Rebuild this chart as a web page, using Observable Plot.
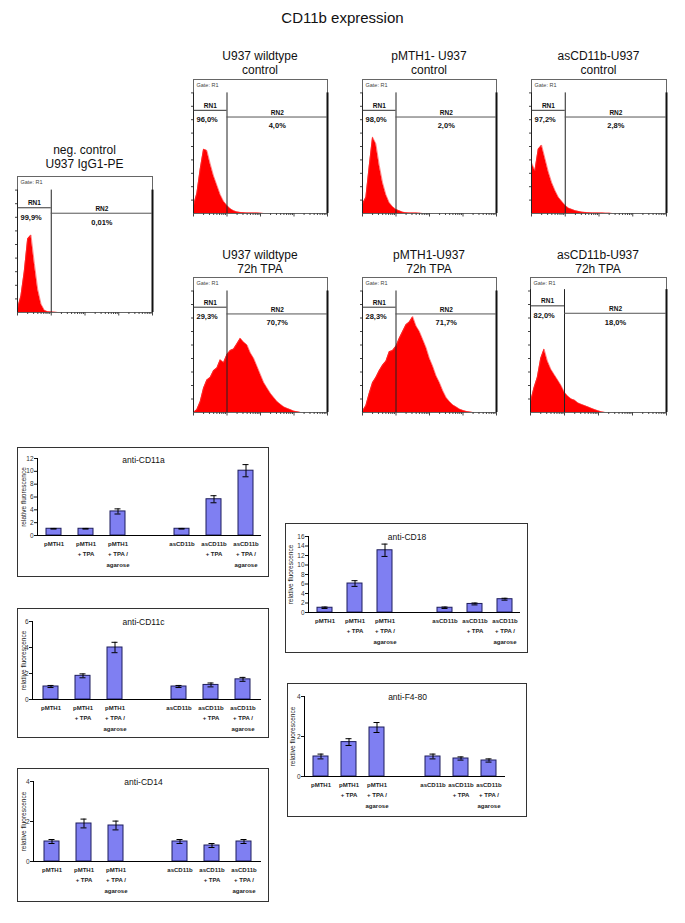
<!DOCTYPE html>
<html><head><meta charset="utf-8">
<script src="https://cdn.jsdelivr.net/npm/d3@7"></script>
<script src="https://cdn.jsdelivr.net/npm/@observablehq/plot@0.6"></script>
<style>
body{margin:0;background:#fff;font-family:"Liberation Sans",Arial,Helvetica,sans-serif;}
#root{position:relative;width:685px;height:923px;overflow:hidden;background:#fff;}
svg{display:block;overflow:visible;}
</style></head><body><div id="root"></div>
<script>
// ---------------- DATA ----------------
const mainTitle = "CD11b expression";

// flow cytometry histograms: heights (% of panel) per 0.1-decade bin, starting at 10^0
const histTitles = ["neg. control\nU937 IgG1-PE", "U937 wildtype\ncontrol", "pMTH1- U937\ncontrol", "asCD11b-U937\ncontrol",
                    "U937 wildtype\n72h TPA", "pMTH1-U937\n72h TPA", "asCD11b-U937\n72h TPA"];
const binStep = 0.1;
const negCtrl   = [3, 12, 30, 54, 57, 36, 17, 6, 1.5, 0.5, 0.3, 0.2, 0];
const wtCtrl    = [6, 15, 33, 48, 47, 37, 28, 21, 14, 9, 6, 3.5, 2, 1.2, 0.8, 0.5, 0.4, 0.4, 0.3, 0.3, 0.2, 0];
const pmthCtrl  = [7, 12, 35, 57, 52, 36, 23, 14, 8, 5, 3, 2, 1, 0.6, 0.4, 0.3, 0.3, 0.2, 0];
const asCtrl    = [38, 32, 48, 51, 41, 31, 23, 17, 12, 9, 6, 4, 3, 2, 1.5, 1, 0.8, 0.5, 0.4, 0.4, 0.3, 0.3, 0.2, 0.2, 0];
const wtTPA     = [0, 2, 8, 18, 24, 26, 31, 33, 39, 37, 43, 46, 47, 51, 55, 52, 50, 44, 40, 34, 28, 22, 18, 14, 11, 8, 6, 4, 3, 2, 1, 0.5, 0];
const pmthTPA   = [1, 5, 14, 22, 26, 31, 35, 38, 45, 46, 49, 55, 60, 65, 67, 71, 64, 60, 54, 48, 40, 34, 27, 22, 16, 11, 8, 5.5, 4, 2.5, 1.5, 0.8, 0.3, 0];
const asTPA     = [8, 18, 26, 40, 47, 38, 32, 28, 24, 20, 15, 12, 10, 9, 7, 6, 5, 4, 3, 2, 1.2, 0.4, 0];
const histSeries = [negCtrl, wtCtrl, pmthCtrl, asCtrl, wtTPA, pmthTPA, asTPA];

const rn1Pct = ["99,9%", "96,0%", "98,0%", "97,2%", "29,3%", "28,3%", "82,0%"];
const rn2Pct = ["0,01%", "4,0%", "2,0%", "2,8%", "70,7%", "71,7%", "18,0%"];
const gateSplit = 1;               // RN1 / RN2 boundary (decade)
const decades = 4;
const rn1Level = [77, 77, 77, 77, 78, 78, 79];
const rn2Level = [73, 72, 72, 72, 73, 73, 73.5];
const markerTop = [90, 90, 90, 90, 90, 90, 91];

// bar charts
const barCats = ["pMTH1", "pMTH1\n+ TPA", "pMTH1\n+ TPA /\nagarose", "asCD11b", "asCD11b\n+ TPA", "asCD11b\n+ TPA /\nagarose"];
const gapSlot = " ";
const barTitles = ["anti-CD11a", "anti-CD11c", "anti-CD14", "anti-CD18", "anti-F4-80"];
const cd11aMean = [1.05, 1.05, 3.75, 1.05, 5.65, 10.1];
const cd11aErr  = [0.05, 0.05, 0.4, 0.05, 0.55, 0.95];
const cd11cMean = [1.0, 1.82, 4.0, 1.0, 1.12, 1.55];
const cd11cErr  = [0.08, 0.15, 0.4, 0.08, 0.15, 0.15];
const cd14Mean  = [1.0, 1.9, 1.8, 1.0, 0.8, 1.0];
const cd14Err   = [0.1, 0.22, 0.22, 0.1, 0.1, 0.1];
const cd18Mean  = [1.0, 6.1, 13.1, 1.0, 1.8, 2.8];
const cd18Err   = [0.15, 0.6, 1.3, 0.15, 0.2, 0.2];
const f480Mean  = [1.0, 1.72, 2.45, 1.0, 0.9, 0.8];
const f480Err   = [0.12, 0.17, 0.25, 0.12, 0.08, 0.08];
const cd11aTicks = [0, 2, 4, 6, 8, 10, 12];
const cd11cTicks = [0, 2, 4, 6];
const cd14Ticks  = [0, 2, 4];
const cd18Ticks  = [0, 2, 4, 6, 8, 10, 12, 14, 16];
const f480Ticks  = [0, 2, 4];
const yLabel = "relative fluorescence";

// ---------------- LAYOUT ----------------
const FONT = '"Liberation Sans", Arial, Helvetica, sans-serif';
const root = document.getElementById("root");
function put(el, x, y) { el.style.position = "absolute"; el.style.left = x + "px"; el.style.top = y + "px"; root.appendChild(el); return el; }

const tt = document.createElement("div");
tt.textContent = mainTitle;
tt.style.cssText = `width:685px;text-align:center;font-size:15px;line-height:18px;font-family:${FONT};color:#111;`;
put(tt, 0, 9);

const histBoxes = [
  {x: 17,  y: 176, w: 135, h: 136, ty: 143},
  {x: 193, y: 79,  w: 134, h: 134, ty: 49},
  {x: 362, y: 79,  w: 134, h: 134, ty: 49},
  {x: 531, y: 79,  w: 135, h: 134, ty: 49},
  {x: 193, y: 277, w: 134, h: 135, ty: 248},
  {x: 362, y: 277, w: 134, h: 135, ty: 248},
  {x: 530, y: 277, w: 136, h: 135, ty: 248}
];
const histYTicks = d3.range(10, 100, 10);
const logMajor = d3.range(0, decades + 1);
const logMinor = d3.range(0, decades).flatMap(d => d3.range(2, 10).map(k => d + Math.log10(k)));

histSeries.forEach((vals, i) => {
  const b = histBoxes[i];
  const data = vals.map((v, j) => ({d: j * binStep, v}));
  const ml = 4, mr = 2, mt = 1, mb = 4;
  const svg = Plot.plot({
    width: b.w + ml + mr, height: b.h + mt + mb,
    marginLeft: ml, marginRight: mr, marginTop: mt, marginBottom: mb,
    style: {background: "transparent", fontFamily: FONT, overflow: "visible", color: "#111"},
    x: {domain: [0, decades], axis: null},
    y: {domain: [0, 100], axis: null},
    marks: [
      Plot.areaY(data, {x: "d", y: "v", fill: "#ff0000"}),
      Plot.lineY(data, {x: "d", y: "v", stroke: "#ff4040", strokeWidth: 0.6}),
      Plot.frame({stroke: "#666"}),
      Plot.axisY({ticks: histYTicks, tickSize: 2, tickFormat: () => "", label: null, stroke: "#444"}),
      Plot.axisX({ticks: logMinor, tickSize: 2, tickFormat: () => "", label: null, stroke: "#444"}),
      Plot.axisX({ticks: logMajor, tickSize: 3.5, tickFormat: () => "", label: null, stroke: "#444"}),
      Plot.ruleX([0], {y1: 0, y2: markerTop[i], stroke: "#222"}),
      Plot.ruleX([gateSplit], {y1: 0, y2: markerTop[i], stroke: "#222"}),
      Plot.ruleX([decades], {y1: 0, y2: markerTop[i], stroke: "#111", strokeWidth: 2}),
      Plot.ruleY([rn1Level[i]], {x1: 0, x2: gateSplit, stroke: "#333"}),
      Plot.ruleY([rn2Level[i]], {x1: gateSplit, x2: decades, stroke: "#555"}),
      Plot.text([{x: gateSplit / 2, y: rn1Level[i], t: "RN1"}], {x: "x", y: "y", text: "t", dy: -4.5, fontWeight: "bold", fontSize: 6.5}),
      Plot.text([{x: (gateSplit + decades) / 2, y: rn2Level[i], t: "RN2"}], {x: "x", y: "y", text: "t", dy: -4, fontWeight: "bold", fontSize: 6.5}),
      Plot.text([{x: 0, y: rn1Level[i], t: rn1Pct[i]}], {x: "x", y: "y", text: "t", dx: 3, dy: 9.5, textAnchor: "start", fontWeight: "bold", fontSize: 7.5}),
      Plot.text([{x: (gateSplit + decades) / 2, y: rn2Level[i], t: rn2Pct[i]}], {x: "x", y: "y", text: "t", dy: 9, fontWeight: "bold", fontSize: 7.5}),
      Plot.text(["Gate: R1"], {frameAnchor: "top-left", dx: 3, dy: 4, textAnchor: "start", fontSize: 5.5, fill: "#444"})
    ]
  });
  put(svg, b.x - ml, b.y - mt);
  const t = document.createElement("div");
  t.textContent = histTitles[i];
  t.style.cssText = `width:170px;text-align:center;white-space:pre;font-size:12px;line-height:14px;font-family:${FONT};color:#111;`;
  put(t, b.x + b.w / 2 - 85, b.ty);
});

// bar charts
const barPanels = [
  {title: barTitles[0], mean: cd11aMean, err: cd11aErr, max: 12, ticks: cd11aTicks, box: {x: 17,  y: 447, w: 252, h: 130, ml: 19, mr: 7,  mt: 10, mb: 41, tdy: -2, lx: 5}},
  {title: barTitles[1], mean: cd11cMean, err: cd11cErr, max: 6,  ticks: cd11cTicks, box: {x: 17,  y: 608, w: 252, h: 130, ml: 14, mr: 7,  mt: 12, mb: 38, tdy: -3, lx: 5}},
  {title: barTitles[2], mean: cd14Mean,  err: cd14Err,  max: 4,  ticks: cd14Ticks,  box: {x: 17,  y: 768, w: 252, h: 134, ml: 15, mr: 7,  mt: 12, mb: 40, tdy: -3, lx: 5}},
  {title: barTitles[3], mean: cd18Mean,  err: cd18Err,  max: 16, ticks: cd18Ticks,  box: {x: 285, y: 523, w: 243, h: 130, ml: 22, mr: 7,  mt: 12, mb: 40, tdy: -3, lx: 4}},
  {title: barTitles[4], mean: f480Mean,  err: f480Err,  max: 4,  ticks: f480Ticks,  box: {x: 287, y: 683, w: 240, h: 134, ml: 16, mr: 21, mt: 12, mb: 40, tdy: -3, lx: 4}}
];
const xDomain = [...barCats.slice(0, 3), gapSlot, ...barCats.slice(3)];
const barWidth = 15;

barPanels.forEach(p => {
  const b = p.box;
  const data = barCats.map((c, i) => ({c, m: p.mean[i], e: p.err[i]}));
  const w = b.w - 2, h = b.h - 2;
  const step = (w - b.ml - b.mr) / xDomain.length;
  const pad = 1 - barWidth / step;
  const svg = Plot.plot({
    width: w, height: h, marginLeft: b.ml, marginRight: b.mr, marginTop: b.mt, marginBottom: b.mb,
    style: {background: "#fff", fontFamily: FONT, overflow: "visible", color: "#111"},
    x: {domain: xDomain, paddingInner: pad, paddingOuter: pad / 2, axis: null},
    y: {domain: [0, p.max], axis: null},
    marks: [
      Plot.barY(data, {x: "c", y: "m", fill: "#7f7ff2", stroke: "#1d1d5c", strokeWidth: 1}),
      Plot.ruleX(data, {x: "c", y1: d => d.m - d.e, y2: d => d.m + d.e, stroke: "#000"}),
      Plot.tickY(data, {x: "c", y: d => d.m + d.e, insetLeft: 4.5, insetRight: 4.5, stroke: "#000"}),
      Plot.tickY(data, {x: "c", y: d => d.m - d.e, insetLeft: 4.5, insetRight: 4.5, stroke: "#000"}),
      Plot.ruleY([0], {stroke: "#000"}),
      Plot.frame({anchor: "left", stroke: "#000"}),
      Plot.axisY({ticks: p.ticks, tickSize: 3, tickPadding: 1, fontSize: 6.5, label: null, fill: "#333", tickFormat: d => String(d)}),
      Plot.axisX({tickSize: 0, tickPadding: 3, fontSize: 6, fontWeight: "bold", lineHeight: 1.75, label: null, fill: "#222"}),
      Plot.text([p.title], {frameAnchor: "top", dx: (b.mr - b.ml) / 2, dy: b.tdy, fontSize: 8.5}),
      Plot.text([yLabel], {frameAnchor: "left", textAnchor: "middle", rotate: -90, dx: b.lx - b.ml, fontSize: 6.5, fill: "#222"})
    ]
  });
  const wrap = document.createElement("div");
  wrap.style.cssText = `width:${b.w}px;height:${b.h}px;border:1px solid #333;box-sizing:border-box;background:#fff;`;
  wrap.appendChild(svg);
  put(wrap, b.x, b.y);
});
</script></body></html>
